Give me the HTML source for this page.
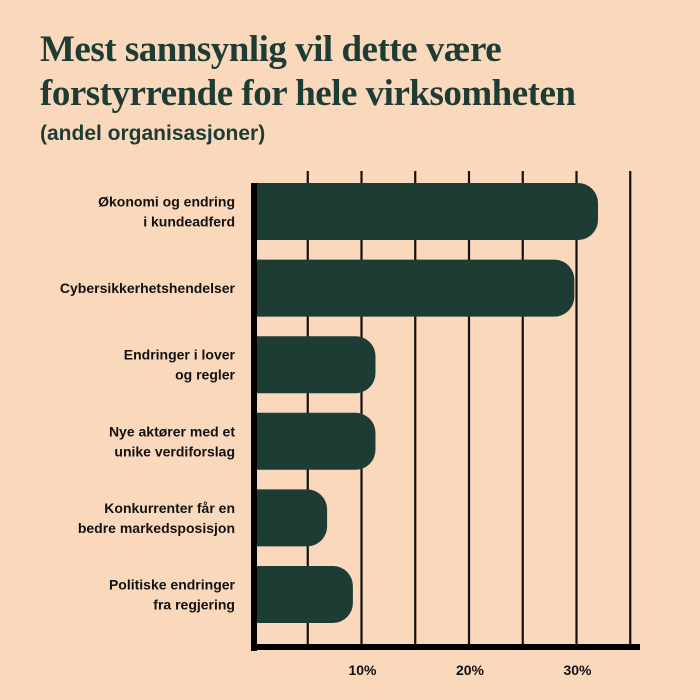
<!DOCTYPE html>
<html><head><meta charset="utf-8"><style>
body{margin:0;width:700px;height:700px;background:#fad8bc;overflow:hidden;font-family:"Liberation Sans",sans-serif}
#t{position:absolute;left:40px;top:28px;font-family:"Liberation Serif",serif;font-weight:bold;font-size:37px;line-height:44px;color:#1d3c34;letter-spacing:-0.5px}
#s{position:absolute;left:40px;top:122px;font-weight:bold;font-size:21px;color:#1d3c34}
</style></head><body>
<div id="t">Mest sannsynlig vil dette være<br>forstyrrende for hele virksomheten</div>
<div id="s">(andel organisasjoner)</div>
<svg id="c" width="700" height="700" style="position:absolute;left:0;top:0"></svg>
<script>
const categories=[["Økonomi og endring","i kundeadferd"],["Cybersikkerhetshendelser"],["Endringer i lover","og regler"],["Nye aktører med et","unike verdiforslag"],["Konkurrenter får en","bedre markedsposisjon"],["Politiske endringer","fra regjering"]];
const values=[32,29.8,11.3,11.3,6.8,9.2];
const gridTicks=[5,10,15,20,25,30,35];
const tickLabels=["10%","20%","30%"];
const tickValues=[10,20,30];
const svg=document.getElementById('c');const NS="http://www.w3.org/2000/svg";
const x0=254,pxPer=10.75;
const xs=v=>x0+v*pxPer;
const ys=i=>183+i*76.6;
const bh=57;
function mk(t,a){const e=document.createElementNS(NS,t);for(const k in a)e.setAttribute(k,a[k]);svg.appendChild(e);return e;}
gridTicks.forEach(v=>{const l=mk('line',{x1:xs(v),x2:xs(v),y1:171,y2:645,stroke:'#111','stroke-width':2.2});

});
values.forEach((v,i)=>{const w=xs(v)-x0;const r=20;const y=ys(i);
const p=mk('path',{d:`M${x0} ${y}H${x0+w-r}A${r} ${r} 0 0 1 ${x0+w} ${y+r}V${y+bh-r}A${r} ${r} 0 0 1 ${x0+w-r} ${y+bh}H${x0}Z`,fill:'#1d3c34'});


const lines=categories[i];const cy=y+bh/2;
lines.forEach((s,j)=>{const t=mk('text',{x:235,y:cy+5+(j-(lines.length-1)/2)*20,'text-anchor':'end','font-size':14,'font-weight':'bold',fill:'#111','font-family':'Liberation Sans, sans-serif'});t.textContent=s;

});});
const ya=mk('rect',{x:251,y:183,width:6,height:468,fill:'#000'});


const xa=mk('rect',{x:251,y:644,width:389,height:6,fill:'#000'});


tickValues.forEach((v,i)=>{const t=mk('text',{x:xs(v)+1,y:675,'text-anchor':'middle','font-size':14,'font-weight':'bold',fill:'#111','font-family':'Liberation Sans, sans-serif'});t.textContent=tickLabels[i];

});
</script>
</body></html>
